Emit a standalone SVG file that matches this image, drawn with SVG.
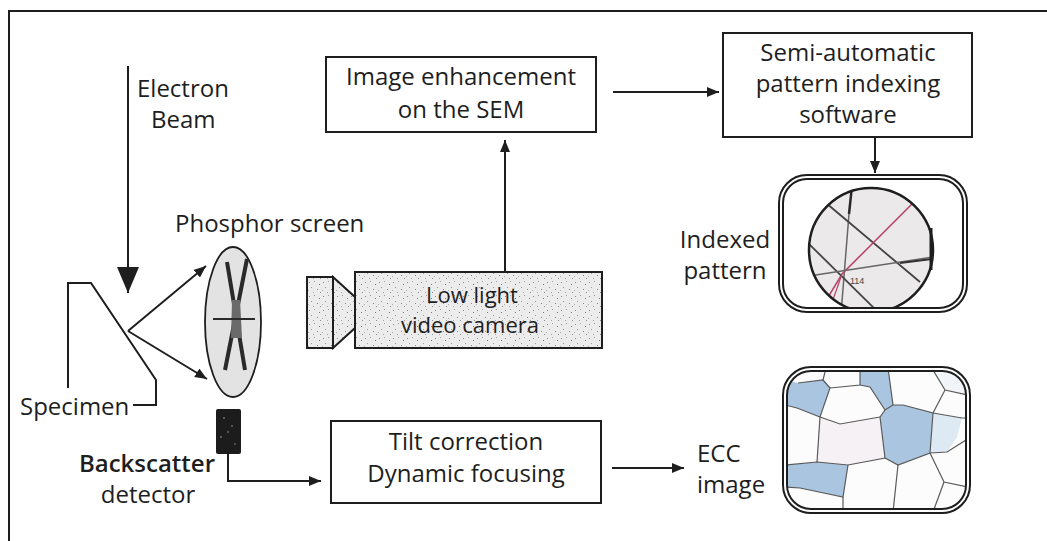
<svg xmlns="http://www.w3.org/2000/svg" width="1047" height="541" viewBox="0 0 1047 541">
  <defs>
    <style>
      .t { font-family: "Open Sans", "Liberation Sans", sans-serif; font-size: 24px; fill: #1e1e1e; }
      .s { font-size: 22px; }
      .c { text-anchor: middle; }
      .box { fill: #fff; stroke: #1e1e1e; stroke-width: 2; }
      .ln { fill: none; stroke: #1e1e1e; stroke-width: 2; }
      .frame { fill: none; stroke: #1e1e1e; stroke-width: 2; }
      .mesh { fill: none; stroke: #5a5a5a; stroke-width: 1.2; }
    </style>
    <marker id="ah" viewBox="0 0 12 10" refX="12" refY="5" markerWidth="12" markerHeight="10" markerUnits="userSpaceOnUse" orient="auto">
      <path d="M0,0 L12,5 L0,10 z" fill="#1e1e1e"/>
    </marker>
    <marker id="ahBig" viewBox="0 0 26 22" refX="26" refY="11" markerWidth="26" markerHeight="22" markerUnits="userSpaceOnUse" orient="auto">
      <path d="M0,0 L26,11 L0,22 z" fill="#1e1e1e"/>
    </marker>
    <pattern id="stipple" width="14" height="14" patternUnits="userSpaceOnUse">
      <rect width="14" height="14" fill="#ececec"/>
      <rect x="1" y="2" width="1" height="1" fill="#8a8a8a"/>
      <rect x="6" y="1" width="1" height="1" fill="#a0a0a0"/>
      <rect x="11" y="4" width="1" height="1" fill="#7a7a7a"/>
      <rect x="3" y="7" width="1" height="1" fill="#9a9a9a"/>
      <rect x="9" y="9" width="1" height="1" fill="#888"/>
      <rect x="5" y="12" width="1" height="1" fill="#a5a5a5"/>
      <rect x="12" y="12" width="1" height="1" fill="#909090"/>
      <rect x="0" y="10" width="1" height="1" fill="#b0b0b0"/>
    </pattern>
    <clipPath id="idxClip"><rect x="783" y="179" width="180" height="129" rx="24"/></clipPath>
    <clipPath id="circClip"><circle cx="871" cy="250" r="62"/></clipPath>
    <clipPath id="eccClip"><rect x="787" y="371" width="179" height="138" rx="24"/></clipPath>
  </defs>

  <rect width="1047" height="541" fill="#fff"/>

  <!-- outer frame: top and left edges -->
  <path class="frame" d="M9,541 V11 H1047"/>

  <!-- electron beam label -->
  <g id="electron-beam">
    <text class="t" x="137" y="97">Electron</text>
    <text class="t" x="151" y="128">Beam</text>
  </g>

  <!-- tilted specimen -->
  <g id="specimen">
    <path class="ln" d="M68,388 V283 H91 L156,380 V405 H133"/>
    <text class="t" x="20" y="415">Specimen</text>
  </g>

  <!-- phosphor screen -->
  <g id="phosphor-screen">
    <text class="t" x="175" y="232">Phosphor screen</text>
    <ellipse cx="233" cy="322" rx="28" ry="75" fill="#e3e3e3" stroke="#1e1e1e" stroke-width="1.8"/>
    <path d="M227,262 L245,370 M247,259 L225,370" stroke="#2a2a2a" stroke-width="4" fill="none"/>
    <path d="M232,300 L240,300 L242,338 L231,338 z" fill="#6a6a6a"/>
    <path d="M213,319 H255" stroke="#2a2a2a" stroke-width="2"/>
  </g>

  <!-- backscatter detector -->
  <g id="backscatter-detector">
    <rect x="216" y="409" width="25" height="45" rx="2" fill="#1c1c1c"/>
    <circle cx="224" cy="418" r="0.8" fill="#aaa"/>
    <circle cx="232" cy="426" r="0.8" fill="#999"/>
    <circle cx="221" cy="437" r="0.8" fill="#aaa"/>
    <circle cx="235" cy="444" r="0.8" fill="#888"/>
    <circle cx="228" cy="432" r="0.7" fill="#bbb"/>
    <text class="t c" x="147" y="472" font-weight="600">Backscatter</text>
    <text class="t c" x="148" y="503">detector</text>
  </g>

  <!-- low light video camera -->
  <g id="video-camera">
    <rect x="307" y="277" width="26" height="71" fill="url(#stipple)" stroke="#1e1e1e" stroke-width="2"/>
    <path d="M333,277 L355,297 V328 L333,348 z" fill="url(#stipple)" stroke="#1e1e1e" stroke-width="2"/>
    <rect x="355" y="272" width="247" height="76" fill="url(#stipple)" stroke="#1e1e1e" stroke-width="2"/>
    <text class="t s c" x="472" y="303">Low light</text>
    <text class="t s c" x="470" y="333">video camera</text>
  </g>

  <!-- image enhancement -->
  <g id="image-enhancement">
    <rect class="box" x="326" y="57" width="270" height="75"/>
    <text class="t c" x="461" y="85">Image enhancement</text>
    <text class="t c" x="461" y="118">on the SEM</text>
  </g>

  <!-- indexing software -->
  <g id="indexing-software">
    <rect class="box" x="723" y="33" width="249" height="104"/>
    <text class="t c" x="848" y="61">Semi-automatic</text>
    <text class="t c" x="848" y="92">pattern indexing</text>
    <text class="t c" x="848" y="123">software</text>
  </g>

  <!-- indexed pattern -->
  <g id="indexed-pattern">
    <text class="t c" x="725" y="248">Indexed</text>
    <text class="t c" x="725" y="279">pattern</text>
    <g clip-path="url(#idxClip)">
      <circle cx="871" cy="250" r="62" fill="#ece9eb"/>
      <g clip-path="url(#circClip)" fill="none">
        <path d="M852,186 L849,214" stroke="#2a2a2a" stroke-width="2.5"/>
        <path d="M849,214 L841,314" stroke="#666" stroke-width="1.5"/>
        <path d="M826,203 L920,282" stroke="#444" stroke-width="1.8"/>
        <path d="M912,204 L842,274 L818,314" stroke="#b8406a" stroke-width="1.5"/>
        <path d="M807,242 L880,314" stroke="#444" stroke-width="1.8"/>
        <path d="M809,276 L933,257" stroke="#666" stroke-width="1.5"/>
        <path d="M842,274 L828,314" stroke="#b8406a" stroke-width="1.2"/>
        <path d="M900,263 L932,259" stroke="#333" stroke-width="2"/>
      </g>
      <circle cx="871" cy="250" r="62" fill="none" stroke="#1e1e1e" stroke-width="2.5"/>
      <path d="M931,228 V270" stroke="#1e1e1e" stroke-width="3"/>
      <text x="850" y="284" font-family="'Liberation Sans', sans-serif" font-size="9" fill="#444">114</text>
    </g>
    <rect class="frame" x="779" y="175" width="188" height="137" rx="28"/>
    <rect class="frame" x="783" y="179" width="180" height="129" rx="24"/>
  </g>

  <!-- tilt correction -->
  <g id="tilt-correction">
    <rect class="box" x="331" y="421" width="270" height="82"/>
    <text class="t c" x="466" y="450">Tilt correction</text>
    <text class="t c" x="466" y="482">Dynamic focusing</text>
  </g>

  <!-- ECC image -->
  <g id="ecc-image">
    <text class="t" x="697" y="462">ECC</text>
    <text class="t" x="697" y="493">image</text>
    <g clip-path="url(#eccClip)">
      <rect x="787" y="371" width="179" height="138" fill="#fdfcfd"/>
      <path d="M840,424 L880,417 L885,458 L848,465 L817,462 L820,417 z" fill="#f6f1f4"/>
      <path d="M933,373 L966,373 L966,395 L945,390 z" fill="#f1f5f9"/>
      <g fill="#a9c5e0">
        <path d="M785,380 L798,383 L823,380 L830,388 L820,417 L797,408 L785,405 z"/>
        <path d="M860,370 L888,370 L893,405 L885,410 L870,387 L860,385 z"/>
        <path d="M880,417 L885,410 L893,405 L903,405 L933,413 L930,453 L898,465 L885,458 z"/>
        <path d="M785,465 L817,462 L848,465 L843,497 L800,488 L785,487 z"/>
      </g>
      <path d="M933,413 L962,418 L957,437 L947,452 L930,453 z" fill="#dde9f3"/>
      <g class="mesh">
        <path d="M798,383 L823,380 L830,388 L820,417 L797,408 L785,405"/>
        <path d="M823,380 L826,368"/>
        <path d="M830,388 L860,385 L860,368"/>
        <path d="M860,385 L870,387 L885,410 L893,405 L888,368"/>
        <path d="M820,417 L817,462"/>
        <path d="M820,417 L840,424 L880,417"/>
        <path d="M880,417 L885,458 L848,465 L817,462 L785,465"/>
        <path d="M885,410 L880,417 M893,405 L903,405 L933,413 L930,453 L898,465 L885,458"/>
        <path d="M848,465 L843,497 L800,488 L785,487"/>
        <path d="M843,497 L843,512"/>
        <path d="M898,465 L893,512"/>
        <path d="M930,453 L947,452 L966,440"/>
        <path d="M933,413 L962,418 L968,418"/>
        <path d="M930,453 L944,482 L968,487"/>
        <path d="M944,482 L933,512"/>
        <path d="M933,370 L945,390 L968,395"/>
        <path d="M945,390 L933,413"/>
      </g>
    </g>
    <rect class="frame" x="783" y="367" width="187" height="146" rx="28"/>
    <rect class="frame" x="787" y="371" width="179" height="138" rx="24"/>
  </g>

  <!-- connectors -->
  <g id="connectors">
    <line class="ln" x1="128" y1="66" x2="128" y2="293" marker-end="url(#ahBig)"/>
    <line class="ln" x1="128" y1="331" x2="206" y2="266" marker-end="url(#ah)"/>
    <line class="ln" x1="128" y1="331" x2="207" y2="379" marker-end="url(#ah)"/>
    <line class="ln" x1="505" y1="272" x2="505" y2="140" marker-end="url(#ah)"/>
    <line class="ln" x1="613" y1="92" x2="719" y2="92" marker-end="url(#ah)"/>
    <line class="ln" x1="875" y1="138" x2="875" y2="173" marker-end="url(#ah)"/>
    <path class="ln" d="M228,454 V481 H321" marker-end="url(#ah)"/>
    <line class="ln" x1="612" y1="468" x2="684" y2="468" marker-end="url(#ah)"/>
  </g>
</svg>
